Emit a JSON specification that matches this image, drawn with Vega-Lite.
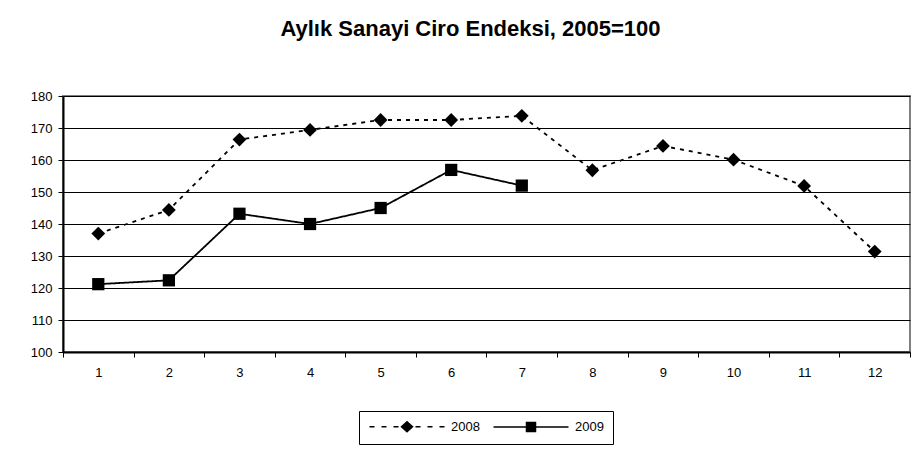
{
  "$schema": "https://vega.github.io/schema/vega-lite/v6.json",
  "autosize": "none",
  "width": 847,
  "height": 256,
  "padding": {"left": 63, "top": 96, "right": 8, "bottom": 98},
  "background": "white",
  "title": {"text": "Aylık Sanayi Ciro Endeksi, 2005=100", "fontSize": 22, "fontWeight": "bold", "font": "Liberation Sans", "color": "black", "anchor": "middle", "offset": 49, "dx": -16},
  "config": {
    "font": "Liberation Sans",
    "view": {"stroke": "#808080", "strokeWidth": 2}
  },
  "data": {"values": [
    {"month": "1", "year": "2008", "value": 137.0},
    {"month": "2", "year": "2008", "value": 144.4},
    {"month": "3", "year": "2008", "value": 166.4},
    {"month": "4", "year": "2008", "value": 169.4},
    {"month": "5", "year": "2008", "value": 172.5},
    {"month": "6", "year": "2008", "value": 172.5},
    {"month": "7", "year": "2008", "value": 173.8},
    {"month": "8", "year": "2008", "value": 156.8},
    {"month": "9", "year": "2008", "value": 164.4},
    {"month": "10", "year": "2008", "value": 160.1},
    {"month": "11", "year": "2008", "value": 151.9},
    {"month": "12", "year": "2008", "value": 131.4},
    {"month": "1", "year": "2009", "value": 121.2},
    {"month": "2", "year": "2009", "value": 122.4},
    {"month": "3", "year": "2009", "value": 143.2},
    {"month": "4", "year": "2009", "value": 140.0},
    {"month": "5", "year": "2009", "value": 145.0},
    {"month": "6", "year": "2009", "value": 156.9},
    {"month": "7", "year": "2009", "value": 152.0}
  ]},
  "encoding": {
    "x": {
      "field": "month", "type": "ordinal", "sort": ["1","2","3","4","5","6","7","8","9","10","11","12"],
      "bandPosition": 0.5,
      "scale": {"type": "band", "paddingInner": 0, "paddingOuter": 0},
      "axis": {"title": null, "labelAngle": 0, "labelFontSize": 13, "labelColor": "black", "tickBand": "extent", "tickColor": "black", "tickSize": 5, "labelPadding": 9, "domainColor": "black", "domainWidth": 2, "grid": false}
    },
    "y": {
      "field": "value", "type": "quantitative",
      "scale": {"domain": [100, 180], "nice": false, "zero": false},
      "axis": {"title": null, "values": [100,110,120,130,140,150,160,170,180], "labelFontSize": 13, "labelColor": "black", "tickColor": "black", "tickSize": 5, "labelPadding": 6, "domainColor": "black", "domainWidth": 2, "grid": true, "gridColor": "black", "gridWidth": 1, "gridOpacity": 1}
    }
  },
  "layer": [
    {
      "mark": {"type": "line", "color": "black", "strokeWidth": 1.8},
      "encoding": {
        "detail": {"field": "year", "type": "nominal"},
        "strokeDash": {"condition": {"test": "datum.year === '2008'", "value": [4, 5]}, "value": [1, 0]}
      }
    },
    {
      "mark": {"type": "point", "filled": true, "color": "black", "opacity": 1},
      "encoding": {
        "shape": {"condition": {"test": "datum.year === '2008'", "value": "diamond"}, "value": "square"},
        "size": {"condition": {"test": "datum.year === '2008'", "value": 190}, "value": 150}
      }
    },
    {
      "mark": {"type": "point", "filled": true, "fill": "black", "stroke": "black", "strokeWidth": 1.5, "opacity": 0, "size": 100},
      "encoding": {
        "shape": {
          "field": "year", "type": "nominal",
          "scale": {"domain": ["2008","2009"], "range": ["M-1,0H0M1.4,0H2.4M3.8,0H4.8M5.4,0L6.5,-1L7.6,0L6.5,1ZM8.2,0H9.2M10.6,0H11.6M13,0H14", "M-1,0H5.7M7.3,0H14M5.6,-0.9H7.4V0.9H5.6Z"]},
          "legend": {
            "title": null, "orient": "none", "legendX": 296, "legendY": 315, "direction": "horizontal",
            "strokeColor": "black", "fillColor": "white", "padding": 9,
            "symbolSize": 100, "symbolOpacity": 1, "symbolFillColor": "black", "symbolStrokeColor": "black", "symbolStrokeWidth": 1.5,
            "labelOffset": 70, "columnPadding": 10,
            "labelFontSize": 13, "labelColor": "black", "labelFont": "Liberation Sans",
            "encoding": {
              "symbols": {
                "fill": {"value": "black"},
                "stroke": {"value": "black"},
                "strokeWidth": {"value": 1.5},
                "opacity": {"value": 1}
              }
            }
          }
        }
      }
    }
  ]
}
